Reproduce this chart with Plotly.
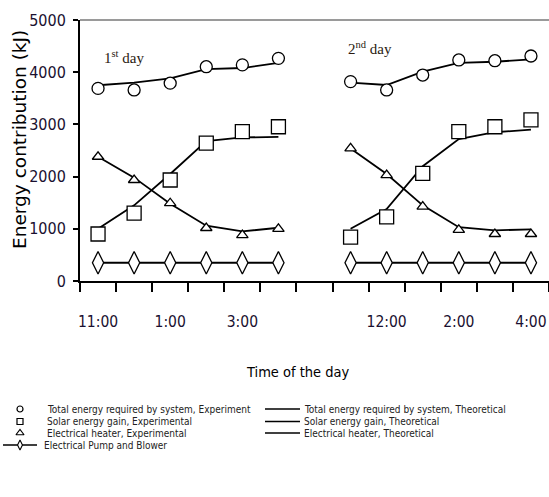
import plotly.graph_objects as go

# Hourly readings (11:00 to 4:00) for the two test days
hours = ["11:00", "12:00", "1:00", "2:00", "3:00", "4:00"]
day1_tick_labels = ["11:00", "1:00", "3:00"]
day2_tick_labels = ["12:00", "2:00", "4:00"]

total_exp_day1 = [3690, 3660, 3790, 4105, 4140, 4265]
total_exp_day2 = [3820, 3660, 3945, 4235, 4220, 4310]
total_theo_day1 = [3750, 3800, 3880, 4060, 4080, 4180]
total_theo_day2 = [3800, 3755, 4010, 4180, 4200, 4245]

solar_exp_day1 = [900, 1300, 1935, 2640, 2860, 2955]
solar_exp_day2 = [840, 1230, 2060, 2860, 2955, 3085]
solar_theo_day1 = [1000, 1450, 2050, 2680, 2750, 2760]
solar_theo_day2 = [1000, 1380, 2200, 2720, 2850, 2900]

heater_exp_day1 = [2380, 1935, 1490, 1015, 880, 1000]
heater_exp_day2 = [2540, 2030, 1425, 980, 900, 900]
heater_theo_day1 = [2380, 1980, 1480, 1060, 950, 1020]
heater_theo_day2 = [2540, 2050, 1450, 1030, 970, 990]

pump_day1 = [350, 350, 350, 350, 350, 350]
pump_day2 = [350, 350, 350, 350, 350, 350]

legend_left = [
    "Total energy required by system, Experiment",
    "Solar energy gain, Experimental",
    "Electrical heater, Experimental",
]
legend_right = [
    "Total energy required by system, Theoretical",
    "Solar energy gain, Theoretical",
    "Electrical heater, Theoretical",
]
legend_pump = "Electrical Pump and Blower"

# ---- geometry (pixels) ----
W, H = 549, 497
PL, PT, PB = 80, 20, 281
NARROW = "DejaVu Sans Condensed, Liberation Sans Narrow, sans-serif"

n = len(hours)
gap = n  # empty slot separating the two days
x_pos = list(range(2 * n + 1))


def join(d1, d2):
    return list(d1) + [None] + list(d2)


day1_label_pos = [hours.index(h) for h in day1_tick_labels]
day2_label_pos = [gap + 1 + hours.index(h) for h in day2_tick_labels]

fig = go.Figure()

line_style = dict(color="black", width=1.8)

# theoretical curves
for d1, d2 in [(total_theo_day1, total_theo_day2),
               (solar_theo_day1, solar_theo_day2),
               (heater_theo_day1, heater_theo_day2)]:
    fig.add_trace(go.Scatter(x=x_pos, y=join(d1, d2), mode="lines",
                             line=line_style, connectgaps=False,
                             showlegend=False, hoverinfo="skip"))

# pump and blower
fig.add_trace(go.Scatter(
    x=x_pos, y=join(pump_day1, pump_day2), mode="lines+markers",
    line=line_style, connectgaps=False,
    marker=dict(symbol="diamond-tall", size=16, color="white",
                line=dict(color="black", width=1.3)),
    showlegend=False, hoverinfo="skip"))

# experimental points
for d1, d2, sym, sz in [(total_exp_day1, total_exp_day2, "circle", 12),
                        (solar_exp_day1, solar_exp_day2, "square", 14),
                        (heater_exp_day1, heater_exp_day2, "triangle-up", 10)]:
    fig.add_trace(go.Scatter(
        x=x_pos, y=join(d1, d2), mode="markers",
        marker=dict(symbol=sym, size=sz, color="white",
                    line=dict(color="black", width=1.3)),
        showlegend=False, hoverinfo="skip"))

# ---- legend block drawn on a full-figure pixel axis ----
rows_y = [409, 421.5, 433, 445]
mk_x, txt_left_x = 20, 45
ln_x0, ln_x1, txt_right_x = 265, 300, 302

for sym, sz, yy in zip(["circle", "square", "triangle-up"], [6, 6, 7], rows_y):
    fig.add_trace(go.Scatter(
        x=[mk_x], y=[yy], mode="markers", xaxis="x2", yaxis="y2",
        marker=dict(symbol=sym, size=sz, color="white",
                    line=dict(color="black", width=1.2)),
        showlegend=False, hoverinfo="skip"))
for yy in rows_y[:3]:
    fig.add_trace(go.Scatter(
        x=[ln_x0, ln_x1], y=[yy, yy], mode="lines", xaxis="x2", yaxis="y2",
        line=dict(color="black", width=1.5), showlegend=False, hoverinfo="skip"))
fig.add_trace(go.Scatter(
    x=[3, 37], y=[rows_y[3], rows_y[3]], mode="lines", xaxis="x2", yaxis="y2",
    line=dict(color="black", width=1.5), showlegend=False, hoverinfo="skip"))
fig.add_trace(go.Scatter(
    x=[mk_x], y=[rows_y[3]], mode="markers", xaxis="x2", yaxis="y2",
    marker=dict(symbol="diamond-tall", size=7, color="white",
                line=dict(color="black", width=1.1)),
    showlegend=False, hoverinfo="skip"))

annotations = []
leg_font = dict(family=NARROW, size=10, color="#222")
for txt, yy in zip(legend_left, rows_y):
    annotations.append(dict(x=txt_left_x, y=yy, xref="x2", yref="y2", text=txt,
                            showarrow=False, xanchor="left", yanchor="middle",
                            font=leg_font))
for txt, yy in zip(legend_right, rows_y):
    annotations.append(dict(x=txt_right_x, y=yy, xref="x2", yref="y2", text=txt,
                            showarrow=False, xanchor="left", yanchor="middle",
                            font=leg_font))
annotations.append(dict(x=42, y=rows_y[3], xref="x2", yref="y2", text=legend_pump,
                        showarrow=False, xanchor="left", yanchor="middle",
                        font=leg_font))

# day labels
day_font = dict(family="Liberation Serif, Times New Roman, serif", size=15, color="#2a1a10")
annotations.append(dict(x=102, y=57, xref="x2", yref="y2", text="1<sup>st</sup> day",
                        showarrow=False, xanchor="left", yanchor="middle", font=day_font))
annotations.append(dict(x=346, y=48, xref="x2", yref="y2", text="2<sup>nd</sup> day",
                        showarrow=False, xanchor="left", yanchor="middle", font=day_font))

# axis titles
annotations.append(dict(x=19, y=140, xref="x2", yref="y2", text="Energy contribution (kJ)",
                        showarrow=False, textangle=-90, xanchor="center", yanchor="middle",
                        font=dict(family="DejaVu Sans, sans-serif", size=18.5, color="black")))
annotations.append(dict(x=298, y=372, xref="x2", yref="y2", text="Time of the day",
                        showarrow=False, xanchor="center", yanchor="middle",
                        font=dict(family=NARROW, size=14.5, color="black")))

fig.update_layout(
    width=W, height=H,
    margin=dict(l=0, r=0, t=0, b=0),
    paper_bgcolor="white", plot_bgcolor="rgba(0,0,0,0)",
    showlegend=False,
    annotations=annotations,
    shapes=[dict(type="line", xref="paper", yref="paper",
                 x0=PL / W, x1=1, y0=(H - PT) / H, y1=(H - PT) / H,
                 line=dict(color="#9a9a9a", width=2))],
    xaxis=dict(
        domain=[PL / W, 1], range=[-0.5, 2 * n + 0.5],
        showline=True, linecolor="black", linewidth=2,
        showgrid=False, zeroline=False,
        tickmode="array",
        tickvals=day1_label_pos + day2_label_pos,
        ticktext=day1_tick_labels + day2_tick_labels,
        ticks="", ticklabelstandoff=25,
        tickfont=dict(family=NARROW, size=15.5, color="#1a1030"),
        minor=dict(tick0=-0.5, dtick=1,
                   ticks="outside", ticklen=9, tickwidth=1.5, tickcolor="black",
                   showgrid=False),
        automargin=False,
    ),
    yaxis=dict(
        domain=[(H - PB) / H, (H - PT) / H], range=[0, 5000],
        showline=True, linecolor="black", linewidth=2,
        showgrid=False, zeroline=False,
        tickmode="array", tickvals=[0, 1000, 2000, 3000, 4000, 5000],
        ticks="outside", ticklen=5, tickwidth=1.5, tickcolor="black",
        ticklabelstandoff=4,
        tickfont=dict(family=NARROW, size=16, color="#1a1030"),
        automargin=False,
    ),
    xaxis2=dict(domain=[0, 1], range=[0, W], visible=False, anchor="y2"),
    yaxis2=dict(domain=[0, 1], range=[H, 0], visible=False, anchor="x2"),
)

fig.write_html("out.html")
